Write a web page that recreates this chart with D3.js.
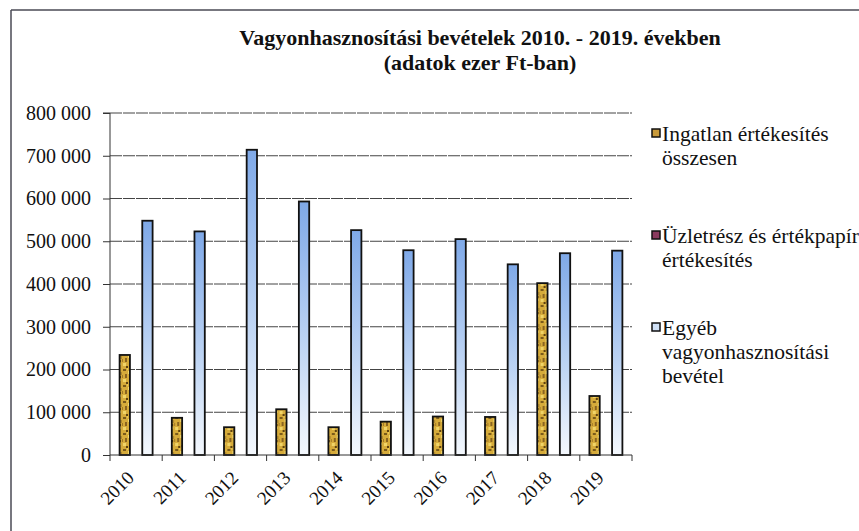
<!DOCTYPE html>
<html>
<head>
<meta charset="utf-8">
<script src="https://cdn.jsdelivr.net/npm/d3@7/dist/d3.min.js"></script>
<style>
  html, body { margin: 0; padding: 0; background: #fff; overflow: hidden; }
  svg { display: block; }
  svg text { font-family: "Liberation Serif", "Times New Roman", serif; }
</style>
</head>
<body>
<svg id="chart" width="859" height="531"></svg>
<script>
const years = ["2010","2011","2012","2013","2014","2015","2016","2017","2018","2019"];
const ingatlan = [234000, 87000, 65000, 107000, 65000, 78000, 90000, 89000, 402000, 138000];
const uzletresz = [0, 0, 0, 0, 0, 0, 0, 0, 0, 0];
const egyeb = [548000, 523000, 714000, 593000, 526000, 479000, 505000, 446000, 472000, 478000];
const seriesNames = ["Ingatlan értékesítés összesen", "Üzletrész és értékpapír értékesítés", "Egyéb vagyonhasznosítási bevétel"];
const legendLines = [["Ingatlan értékesítés", "összesen"], ["Üzletrész és értékpapír", "értékesítés"], ["Egyéb", "vagyonhasznosítási", "bevétel"]];
const yTicks = [0, 100000, 200000, 300000, 400000, 500000, 600000, 700000, 800000];
const titleLines = ["Vagyonhasznosítási bevételek 2010. - 2019. években", "(adatok ezer Ft-ban)"];

const FONT = "Liberation Serif, Times New Roman, serif";
const seriesData = [ingatlan, uzletresz, egyeb];
const svg = d3.select("#chart");
const defs = svg.append("defs");

// gold texture
const pat = defs.append("pattern").attr("id", "goldTex").attr("patternUnits", "userSpaceOnUse")
  .attr("width", 12).attr("height", 16);
pat.append("rect").attr("width", 12).attr("height", 16).attr("fill", "#d6ab3a");
const specks = [[1,1,3,2,"#7a5a1a"],[6,3,2,3,"#f2d870"],[3,6,2,4,"#8a6420"],[8,8,3,2,"#6b4a14"],[1,11,3,3,"#f0d468"],[7,13,2,2,"#9a7026"],[5,0,1,2,"#e8c858"],[10,4,2,3,"#b08a30"],[0,7,1,3,"#a07828"],[4,14,2,2,"#5e4210"],[9,11,2,2,"#f4dc78"]];
specks.forEach(s => pat.append("rect").attr("x", s[0]).attr("y", s[1]).attr("width", s[2]).attr("height", s[3]).attr("fill", s[4]));

// blue gradient
const grad = defs.append("linearGradient").attr("id", "blueGrad").attr("x1", 0).attr("y1", 0).attr("x2", 0).attr("y2", 1);
grad.append("stop").attr("offset", "0%").attr("stop-color", "#7fa9e8");
grad.append("stop").attr("offset", "55%").attr("stop-color", "#bcd3f3");
grad.append("stop").attr("offset", "100%").attr("stop-color", "#f4f8fd");

const fills = ["url(#goldTex)", "#8a3a5e", "url(#blueGrad)"];
const legendFills = ["#c89a3a", "#8a3a5e", "#cfe0f6"];

// frame
svg.append("line").attr("x1", 11).attr("y1", 10).attr("x2", 859).attr("y2", 10).attr("stroke", "#4a4a55").attr("stroke-width", 1.5);
svg.append("line").attr("x1", 11).attr("y1", 10).attr("x2", 11).attr("y2", 531).attr("stroke", "#4a4a55").attr("stroke-width", 1.5);

// title
svg.append("g").selectAll("text").data(titleLines).join("text")
  .attr("x", 480).attr("y", (d, i) => 45 + i * 25)
  .attr("text-anchor", "middle").attr("font-weight", "bold").attr("font-size", 22).attr("fill", "#111")
  .attr("font-family", FONT)
  .text(d => d);

const pLeft = 110, pRight = 632, pTop = 113, pBottom = 455;
const x0 = d3.scaleBand().domain(years).range([pLeft, pRight]).padding(0);
const gapHalf = (x0.bandwidth() - 34) / 2;
const x1 = d3.scaleBand().domain(d3.range(3)).range([gapHalf, x0.bandwidth() - gapHalf]).padding(0);
const y = d3.scaleLinear().domain([0, 800000]).range([pBottom, pTop]);

// gridlines
svg.append("g").selectAll("line").data(yTicks.filter(d => d > 0)).join("line")
  .attr("x1", pLeft).attr("x2", pRight).attr("y1", d => y(d)).attr("y2", d => y(d))
  .attr("stroke", "#444").attr("stroke-width", 1).attr("stroke-dasharray", "12,1");

// bars
const groups = svg.append("g").selectAll("g").data(years).join("g")
  .attr("transform", d => `translate(${x0(d)},0)`);
groups.selectAll("rect").data((d, i) => seriesData.map((s, k) => ({k, v: s[i]})).filter(e => e.v > 0)).join("rect")
  .attr("x", e => x1(e.k) + 0.5).attr("width", x1.bandwidth() - 1)
  .attr("y", e => y(e.v)).attr("height", e => y(0) - y(e.v))
  .attr("fill", e => fills[e.k]).attr("stroke", "#111").attr("stroke-width", 1.8);

// y axis
const yAxis = d3.axisLeft(y).tickValues(yTicks).tickSize(7).tickPadding(12)
  .tickFormat(d => d3.format(",")(d).replace(/,/g, " "));
const ya = svg.append("g").attr("transform", `translate(${pLeft},0)`).call(yAxis);
ya.attr("font-family", FONT);
ya.select(".domain").attr("stroke", "#333").attr("d", `M-7,${pTop}H0V${pBottom}`);
ya.selectAll(".tick line").attr("stroke", "#333");
ya.selectAll(".tick text").attr("font-size", 20).attr("fill", "#111").attr("font-family", FONT);

// x axis (line + boundary ticks, labels drawn rotated)
const xAxis = d3.axisBottom(x0).tickSize(0).tickFormat("");
const xa = svg.append("g").attr("transform", `translate(0,${pBottom})`).call(xAxis);
xa.select(".domain").attr("stroke", "#333").attr("d", `M${pLeft},0H${pRight}`);
svg.append("g").selectAll("line").data(years.map((d) => x0(d) + x0.bandwidth()).concat([pLeft])).join("line")
  .attr("x1", d => d).attr("x2", d => d).attr("y1", pBottom).attr("y2", pBottom + 6).attr("stroke", "#333");
const xl = svg.append("g").selectAll("g").data(years).join("g")
  .attr("transform", d => `translate(${x0(d) + x0.bandwidth() / 2 - 1},${pBottom + 24}) rotate(-45)`);
xl.append("text").attr("text-anchor", "end").attr("font-size", 19).attr("fill", "#111")
  .attr("font-family", FONT).text(d => d);

// legend
const lg = svg.append("g");
const legendY = [141, 243, 335];
legendLines.forEach((lines, i) => {
  lg.append("rect").attr("x", 652).attr("y", legendY[i] - 12).attr("width", 8).attr("height", 8)
    .attr("fill", legendFills[i]).attr("stroke", "#111").attr("stroke-width", 1.5);
  lg.append("g").selectAll("text").data(lines).join("text")
    .attr("x", 662).attr("y", (d, j) => legendY[i] + j * 24)
    .attr("font-size", 21.5).attr("fill", "#111").attr("font-family", FONT).text(d => d);
});
</script>
</body>
</html>
